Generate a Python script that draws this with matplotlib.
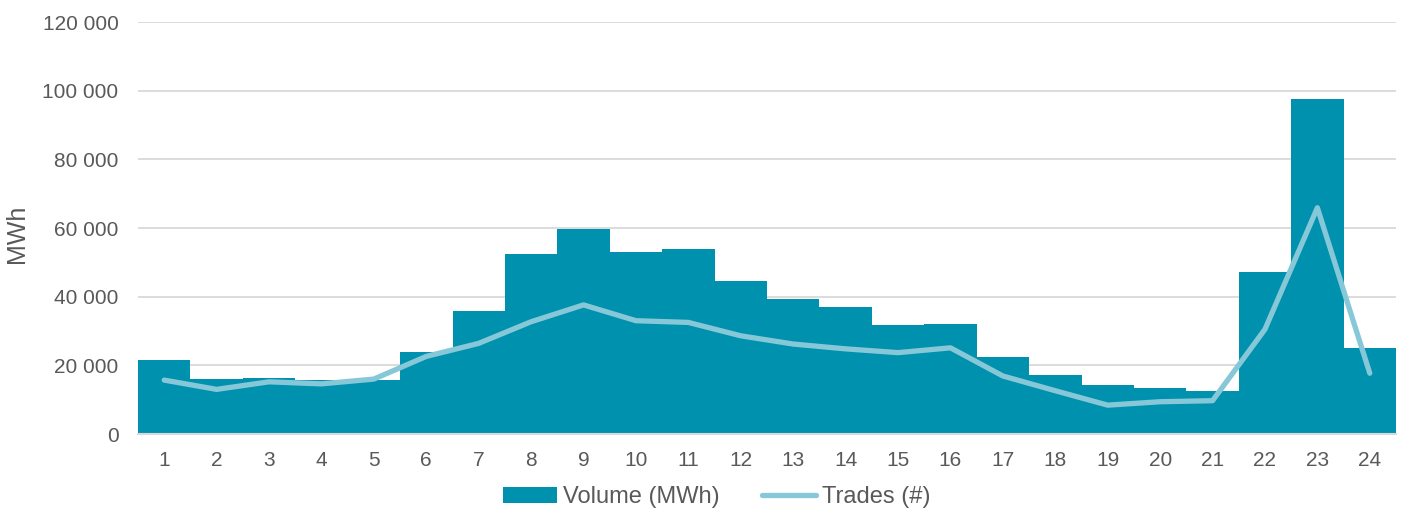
import matplotlib
matplotlib.use("Agg")
import matplotlib.pyplot as plt
from matplotlib.ticker import FuncFormatter

hours = list(range(1, 25))
volume_mwh = [21600, 16000, 16200, 15700, 15600, 23900, 35700, 52400, 59600, 53100,
              53900, 44700, 39300, 37100, 31700, 32000, 22400, 17200, 14300, 13300,
              12500, 47200, 97700, 25100]
trades = [15700, 13000, 15200, 14600, 16000, 22600, 26400, 32700, 37600, 33000,
          32500, 28600, 26200, 24800, 23700, 25100, 16900, 12600, 8400, 9400,
          9700, 30500, 65900, 17700]
y_ticks = [0, 20000, 40000, 60000, 80000, 100000, 120000]

plt.rcParams['font.family'] = ['Liberation Sans', 'DejaVu Sans']
text_col = '#595959'
bar_col = '#0091AE'
line_col = '#86C8D7'
grid_col = '#D9D9D9'

fig = plt.figure(figsize=(14.05, 5.13), dpi=100)
ax = fig.add_axes([138/1405, 1-434/513, (1396-138)/1405, (434-22)/513])

bars = ax.bar(hours, volume_mwh, width=1.0, color=bar_col, label='Volume (MWh)', zorder=2)
line, = ax.plot(hours, trades, color=line_col, lw=3.8, label='Trades (#)', zorder=3,
                solid_capstyle='round')

ax.set_xlim(0.5, 24.5)
ax.set_ylim(0, 120000)
ax.set_yticks(y_ticks)
ax.yaxis.set_major_formatter(FuncFormatter(lambda v, p: f"{int(v):,}".replace(",", " ")))
ax.set_xticks(hours)
ax.grid(axis='y', color=grid_col, lw=1.3, zorder=0)
ax.set_axisbelow(True)
for s in ['left', 'right', 'top']:
    ax.spines[s].set_visible(False)
ax.spines['bottom'].set_color(grid_col)
ax.spines['bottom'].set_linewidth(1.5)
ax.tick_params(axis='y', length=0, labelsize=15, colors=text_col, pad=14)
ax.tick_params(axis='x', length=0, labelsize=15, colors=text_col, pad=12)
ax.set_ylabel('MWh', fontsize=18, color=text_col)
ax.yaxis.set_label_coords((29 - 138) / 1258, 0.485)

fig.legend([bars, line], ['Volume (MWh)', 'Trades (#)'],
           loc='center', bbox_to_anchor=(0.51, 0.031), ncol=2, frameon=False,
           fontsize=17, handlelength=2.3, handletextpad=0.25, columnspacing=1.8,
           labelcolor=text_col)

fig.savefig('out.png', dpi=100)
